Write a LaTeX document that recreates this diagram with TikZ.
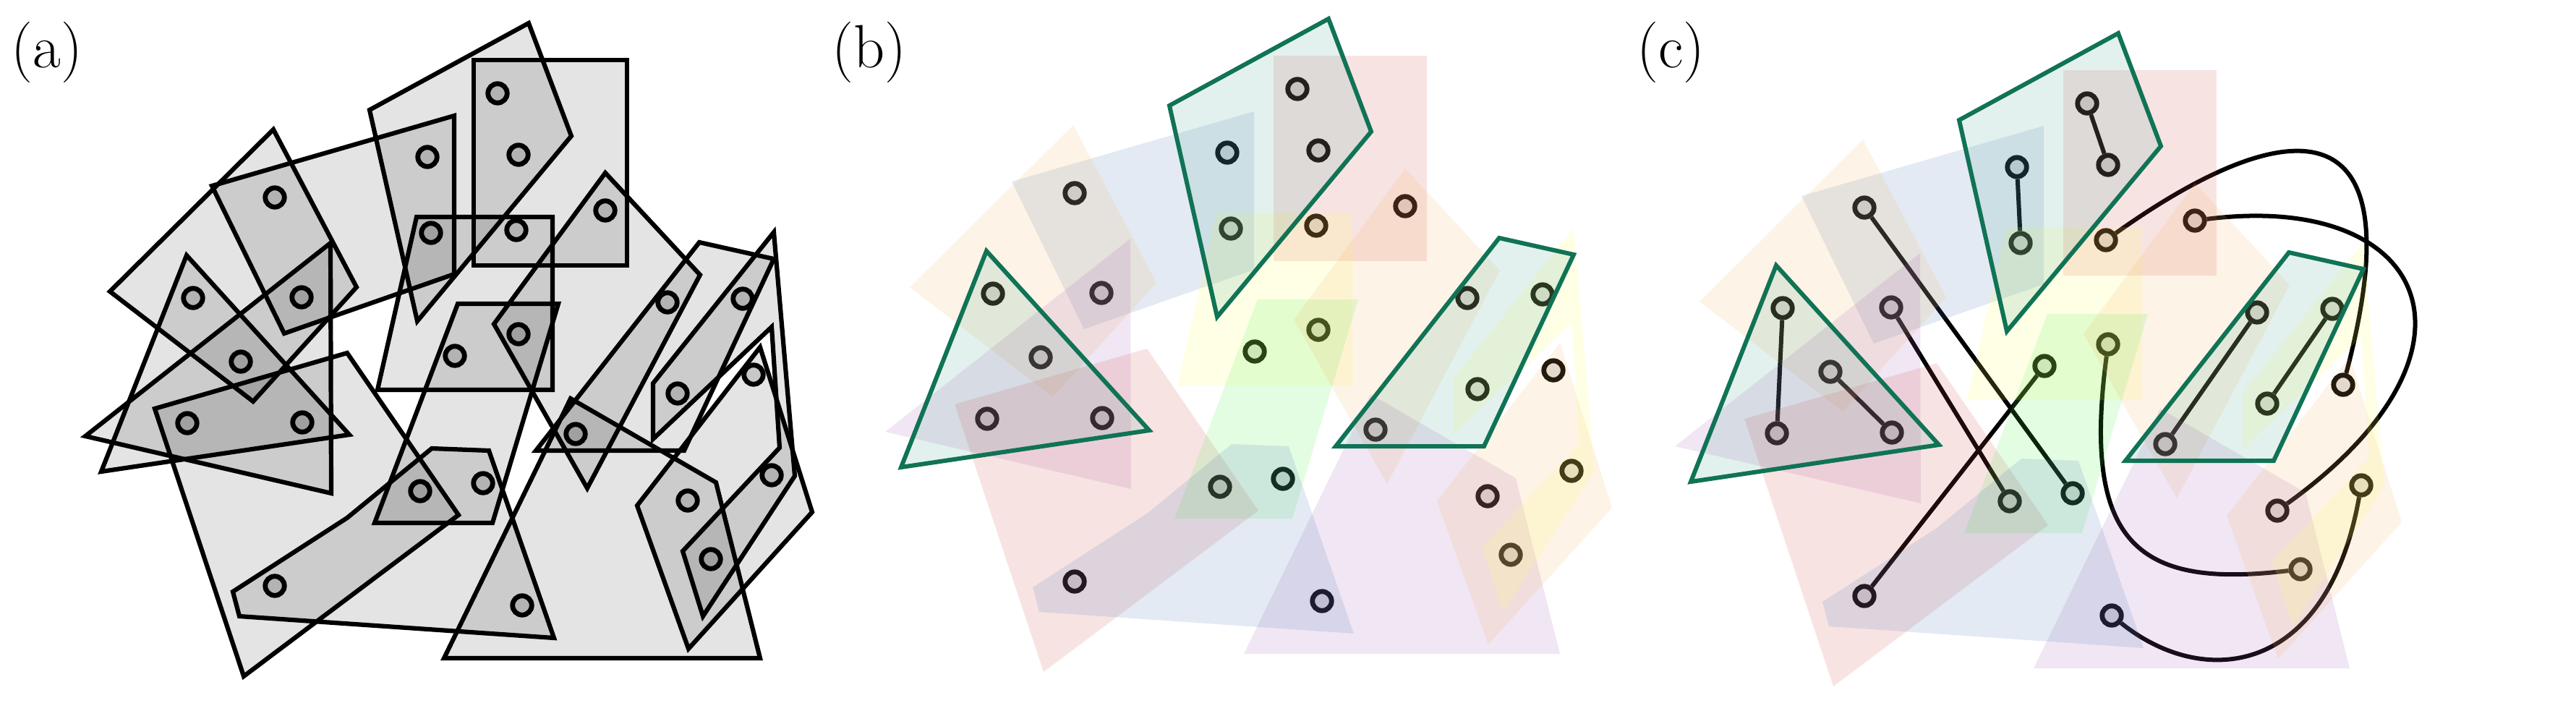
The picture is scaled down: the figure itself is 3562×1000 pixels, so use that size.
\documentclass[tikz,border=0pt]{standalone}
\usepackage{fontspec}
\usepackage{tikz}

\definecolor{hteal}{RGB}{68,162,142}
\definecolor{hpink}{RGB}{208,68,68}
\definecolor{hblue}{RGB}{68,115,175}
\definecolor{hpeach}{RGB}{242,175,88}
\definecolor{hpurple}{RGB}{162,88,175}
\definecolor{hyellow}{RGB}{255,255,88}
\definecolor{hgreen}{RGB}{68,242,68}
\definecolor{hline}{RGB}{16,115,85}

\tikzstyle{vertex}=[circle, draw=black, line width=0.68mm, fill=black, fill opacity=0.12, minimum size=2.65mm, inner sep=0pt]
\tikzstyle{grayshape}=[draw=black, line width=0.62mm, fill=black, fill opacity=0.105]
\tikzstyle{tint}=[fill opacity=0.15]
\tikzstyle{hyper}=[draw=hline, line width=0.6mm]
\tikzstyle{link}=[draw=black, line width=0.6mm]
\tikzstyle{panel}=[anchor=north west, inner sep=0pt, font=\fontsize{24}{28}\selectfont]

\newcommand{\hyA}{(511,152) -- (731,32) -- (790,188) -- (577,444) -- cycle}
\newcommand{\hyB}{(655,83) rectangle (867,367)}
\newcommand{\hyC}{(293,257) -- (628,160) -- (628,379) -- (393,461) -- cycle}
\newcommand{\hyD}{(152,403) -- (378,179) -- (493,397) -- (350,555) -- cycle}
\newcommand{\hyE}{(258,353) -- (483,601) -- (140,652) -- cycle}
\newcommand{\hyF}{(457,336) -- (458,682) -- (118,603) -- cycle}
\newcommand{\hyG}{(214,565) -- (480,488) -- (634,712) -- (337,935) -- cycle}
\newcommand{\hyH}{(576,300) -- (764,300) -- (764,539) -- (522,539) -- cycle}
\newcommand{\hyI}{(633,420) -- (772,420) -- (681,723) -- (518,723) -- cycle}
\newcommand{\hyJ}{(837,239) -- (968,380) -- (812,675) -- (683,448) -- cycle}
\newcommand{\hyK}{(967,335) -- (1070,358) -- (946,623) -- (741,623) -- cycle}
\newcommand{\hyL}{(789,551) -- (990,667) -- (1051,910) -- (614,910) -- cycle}
\newcommand{\hyM}{(881,699) -- (1051,480) -- (1123,708) -- (952,897) -- cycle}
\newcommand{\hyN}{(903,530) -- (1070,321) -- (1099,658) -- (972,852) -- (944,762) -- (1078,619) -- (1067,452) -- (903,607) -- cycle}
\newcommand{\hyO}{(322,818) -- (480,716) -- (597,620) -- (676,623) -- (766,882) -- (331,852) -- cycle}

\newcommand{\vertices}[1]{%
    \node[vertex] (#1-1) at (380,273) {};
    \node[vertex] (#1-2) at (267,412) {};
    \node[vertex] (#1-3) at (417,411) {};
    \node[vertex] (#1-4) at (333,500) {};
    \node[vertex] (#1-5) at (259,585) {};
    \node[vertex] (#1-6) at (418,584) {};
    \node[vertex] (#1-7) at (380,810) {};
    \node[vertex] (#1-8) at (688,129) {};
    \node[vertex] (#1-9) at (717,214) {};
    \node[vertex] (#1-10) at (591,217) {};
    \node[vertex] (#1-11) at (596,322) {};
    \node[vertex] (#1-12) at (714,318) {};
    \node[vertex] (#1-13) at (837,291) {};
    \node[vertex] (#1-14) at (717,462) {};
    \node[vertex] (#1-15) at (629,492) {};
    \node[vertex] (#1-16) at (581,679) {};
    \node[vertex] (#1-17) at (668,668) {};
    \node[vertex] (#1-18) at (722,837) {};
    \node[vertex] (#1-19) at (923,418) {};
    \node[vertex] (#1-20) at (1027,413) {};
    \node[vertex] (#1-21) at (937,544) {};
    \node[vertex] (#1-22) at (1042,518) {};
    \node[vertex] (#1-23) at (796,600) {};
    \node[vertex] (#1-24) at (951,692) {};
    \node[vertex] (#1-25) at (983,773) {};
    \node[vertex] (#1-26) at (1067,657) {};
}

\newcommand{\tintedges}{%
    \fill[tint, hpink] \hyB;
    \fill[tint, hblue] \hyC;
    \fill[tint, hpeach] \hyD;
    \fill[tint, hpurple] \hyF;
    \fill[tint, hpink] \hyG;
    \fill[tint, hyellow] \hyH;
    \fill[tint, hgreen] \hyI;
    \fill[tint, hpeach] \hyJ;
    \fill[tint, hpurple] \hyL;
    \fill[tint, hpeach] \hyM;
    \fill[tint, hyellow] \hyN;
    \fill[tint, hblue] \hyO;
    \fill[tint, hteal] \hyA;
    \fill[tint, hteal] \hyE;
    \fill[tint, hteal] \hyK;
    \draw[hyper] \hyA;
    \draw[hyper] \hyE;
    \draw[hyper] \hyK;
}

\begin{document}
\begin{tikzpicture}[x=0.1mm, y=-0.1mm]
    \useasboundingbox (0,0) rectangle (3562,1000);
    \node[panel] (la) at (15,30) {(a)};
    \node[panel] (lb) at (1150,30) {(b)};
    \node[panel] (lc) at (2263,30) {(c)};

    \path[grayshape] \hyA;
    \path[grayshape] \hyB;
    \path[grayshape] \hyC;
    \path[grayshape] \hyD;
    \path[grayshape] \hyE;
    \path[grayshape] \hyF;
    \path[grayshape] \hyG;
    \path[grayshape] \hyH;
    \path[grayshape] \hyI;
    \path[grayshape] \hyJ;
    \path[grayshape] \hyK;
    \path[grayshape] \hyL;
    \path[grayshape] \hyM;
    \path[grayshape] \hyN;
    \path[grayshape] \hyO;
    \vertices{a}

    \begin{scope}[shift={(1106,-6)}]
        \vertices{b}
        \tintedges
    \end{scope}

    \begin{scope}[shift={(2198,14)}]
        \vertices{c}
        \path[link] (c-8) edge (c-9);
        \path[link] (c-10) edge (c-11);
        \path[link] (c-2) edge (c-5);
        \path[link] (c-4) edge (c-6);
        \path[link] (c-1) edge (c-17);
        \path[link] (c-3) edge (c-16);
        \path[link] (c-7) edge (c-15);
        \path[link] (c-23) edge (c-19);
        \path[link] (c-21) edge (c-20);
        \draw[link] (c-12) .. controls (950,150) and (1150,110) .. (c-22);
        \draw[link] (c-13) .. controls (1160,250) and (1260,470) .. (c-24);
        \draw[link] (c-14) .. controls (680,740) and (760,800) .. (c-25);
        \draw[link] (c-18) .. controls (850,940) and (1020,920) .. (c-26);
        \tintedges
    \end{scope}
\end{tikzpicture}
\end{document}
